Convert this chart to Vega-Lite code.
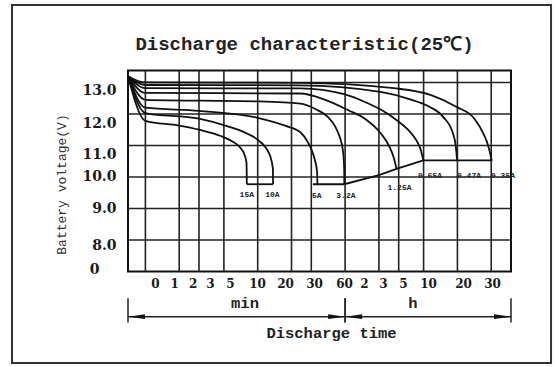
{
  "$schema": "https://vega.github.io/schema/vega-lite/v6.json",
  "width": 383,
  "height": 201,
  "autosize": {"type": "none"},
  "padding": {"left": 128, "top": 70.5, "right": 48, "bottom": 95.5},
  "background": "white",
  "config": {"view": {"stroke": "#111", "strokeWidth": 2}, "axis": {"labelOverlap": false}},
  "title": {
    "text": "Discharge characteristic(25℃)",
    "font": "Liberation Mono",
    "fontSize": 19,
    "fontWeight": "bold",
    "color": "#222",
    "anchor": "middle",
    "frame": "group",
    "dx": -15,
    "dy": 21,
    "offset": -44.3,
    "baseline": "alphabetic"
  },
  "datasets": {
    "vgrid": [{"t": 1}, {"t": 2}, {"t": 3}, {"t": 5}, {"t": 10}, {"t": 20}, {"t": 30}, {"t": 60}, {"t": 120}, {"t": 180}, {"t": 300}, {"t": 600}, {"t": 1200}],
    "hgrid": [{"v": 8}, {"v": 9}, {"v": 10}, {"v": 11}, {"v": 12}, {"v": 13}],
    "curves": [
      {"s": "15A", "i": 0, "t": 0.7, "v": 13.2}, {"s": "15A", "i": 1, "t": 1, "v": 11.78}, {"s": "15A", "i": 2, "t": 2, "v": 11.63}, {"s": "15A", "i": 3, "t": 3, "v": 11.5}, {"s": "15A", "i": 4, "t": 4.7, "v": 11.3}, {"s": "15A", "i": 5, "t": 6, "v": 11.12}, {"s": "15A", "i": 6, "t": 7, "v": 10.93}, {"s": "15A", "i": 7, "t": 7.6, "v": 10.72}, {"s": "15A", "i": 8, "t": 7.95, "v": 10.45}, {"s": "15A", "i": 9, "t": 8.0, "v": 9.77},
      {"s": "10A", "i": 0, "t": 0.7, "v": 13.2}, {"s": "10A", "i": 1, "t": 1, "v": 12.03}, {"s": "10A", "i": 2, "t": 3, "v": 11.85}, {"s": "10A", "i": 3, "t": 5.5, "v": 11.6}, {"s": "10A", "i": 4, "t": 8, "v": 11.38}, {"s": "10A", "i": 5, "t": 10.6, "v": 11.11}, {"s": "10A", "i": 6, "t": 12.2, "v": 10.85}, {"s": "10A", "i": 7, "t": 13.2, "v": 10.55}, {"s": "10A", "i": 8, "t": 13.65, "v": 10.25}, {"s": "10A", "i": 9, "t": 13.7, "v": 9.77},
      {"s": "5A", "i": 0, "t": 0.7, "v": 13.2}, {"s": "5A", "i": 1, "t": 1, "v": 12.2}, {"s": "5A", "i": 2, "t": 3, "v": 12.1}, {"s": "5A", "i": 3, "t": 10, "v": 11.88}, {"s": "5A", "i": 4, "t": 17.8, "v": 11.62}, {"s": "5A", "i": 5, "t": 24, "v": 11.42}, {"s": "5A", "i": 6, "t": 28, "v": 11.1}, {"s": "5A", "i": 7, "t": 30.5, "v": 10.82}, {"s": "5A", "i": 8, "t": 32.5, "v": 10.5}, {"s": "5A", "i": 9, "t": 33.8, "v": 10.15}, {"s": "5A", "i": 10, "t": 34, "v": 9.77},
      {"s": "3.2A", "i": 0, "t": 0.7, "v": 13.2}, {"s": "3.2A", "i": 1, "t": 1, "v": 12.45}, {"s": "3.2A", "i": 2, "t": 10, "v": 12.4}, {"s": "3.2A", "i": 3, "t": 24, "v": 12.33}, {"s": "3.2A", "i": 4, "t": 33, "v": 12.15}, {"s": "3.2A", "i": 5, "t": 42, "v": 11.91}, {"s": "3.2A", "i": 6, "t": 49, "v": 11.6}, {"s": "3.2A", "i": 7, "t": 54, "v": 11.25}, {"s": "3.2A", "i": 8, "t": 57, "v": 10.9}, {"s": "3.2A", "i": 9, "t": 58.5, "v": 10.5}, {"s": "3.2A", "i": 10, "t": 59, "v": 10.1}, {"s": "3.2A", "i": 11, "t": 59, "v": 9.77},
      {"s": "1.25A", "i": 0, "t": 0.7, "v": 13.2}, {"s": "1.25A", "i": 1, "t": 1, "v": 12.67}, {"s": "1.25A", "i": 2, "t": 24, "v": 12.65}, {"s": "1.25A", "i": 3, "t": 40, "v": 12.45}, {"s": "1.25A", "i": 4, "t": 64, "v": 12.12}, {"s": "1.25A", "i": 5, "t": 90, "v": 11.85}, {"s": "1.25A", "i": 6, "t": 125, "v": 11.38}, {"s": "1.25A", "i": 7, "t": 148, "v": 10.98}, {"s": "1.25A", "i": 8, "t": 163, "v": 10.6}, {"s": "1.25A", "i": 9, "t": 172, "v": 10.26},
      {"s": "5h", "i": 0, "t": 0.7, "v": 13.2}, {"s": "5h", "i": 1, "t": 1, "v": 12.82}, {"s": "5h", "i": 2, "t": 24, "v": 12.81}, {"s": "5h", "i": 3, "t": 60, "v": 12.62}, {"s": "5h", "i": 4, "t": 90, "v": 12.38}, {"s": "5h", "i": 5, "t": 130, "v": 12.1}, {"s": "5h", "i": 6, "t": 173, "v": 11.8}, {"s": "5h", "i": 7, "t": 225, "v": 11.45}, {"s": "5h", "i": 8, "t": 258, "v": 11.17}, {"s": "5h", "i": 9, "t": 282, "v": 10.88}, {"s": "5h", "i": 10, "t": 298, "v": 10.53},
      {"s": "10h", "i": 0, "t": 0.7, "v": 13.2}, {"s": "10h", "i": 1, "t": 1, "v": 12.92}, {"s": "10h", "i": 2, "t": 24, "v": 12.91}, {"s": "10h", "i": 3, "t": 124, "v": 12.7}, {"s": "10h", "i": 4, "t": 220, "v": 12.48}, {"s": "10h", "i": 5, "t": 338, "v": 12.23}, {"s": "10h", "i": 6, "t": 450, "v": 11.9}, {"s": "10h", "i": 7, "t": 548, "v": 11.38}, {"s": "10h", "i": 8, "t": 580, "v": 10.98}, {"s": "10h", "i": 9, "t": 596, "v": 10.53},
      {"s": "20h", "i": 0, "t": 0.7, "v": 13.2}, {"s": "20h", "i": 1, "t": 1, "v": 13.0}, {"s": "20h", "i": 2, "t": 24, "v": 12.99}, {"s": "20h", "i": 3, "t": 171, "v": 12.81}, {"s": "20h", "i": 4, "t": 350, "v": 12.6}, {"s": "20h", "i": 5, "t": 586, "v": 12.23}, {"s": "20h", "i": 6, "t": 850, "v": 11.85}, {"s": "20h", "i": 7, "t": 1021, "v": 11.38}, {"s": "20h", "i": 8, "t": 1130, "v": 10.98}, {"s": "20h", "i": 9, "t": 1210, "v": 10.53}
    ],
    "cutoff": [
      {"seg": "a", "i": 0, "t": 8.0, "v": 9.77}, {"seg": "a", "i": 1, "t": 13.7, "v": 9.77},
      {"seg": "b", "i": 0, "t": 31, "v": 9.77}, {"seg": "b", "i": 1, "t": 59, "v": 9.77}, {"seg": "b", "i": 2, "t": 120, "v": 10.06}, {"seg": "b", "i": 3, "t": 172, "v": 10.26}, {"seg": "b", "i": 4, "t": 298, "v": 10.53}, {"seg": "b", "i": 5, "t": 1230, "v": 10.53}
    ],
    "rateLabels": [
      {"label": "15A", "t": 8.0, "v": 9.42}, {"label": "10A", "t": 13.5, "v": 9.42}, {"label": "5A", "t": 33.5, "v": 9.39}, {"label": "3.2A", "t": 61, "v": 9.39}, {"label": "1.25A", "t": 183, "v": 9.64},
      {"label": "0.65A", "t": 342, "v": 10.02}, {"label": "0.47A", "t": 761, "v": 10.02}, {"label": "0.35A", "t": 1528, "v": 10.02}
    ],
    "dims": [{"unit": "min", "start": 0.7, "end": 60}, {"unit": "h", "start": 60, "end": 1800}]
  },
  "layer": [
    {
      "data": {"name": "vgrid"},
      "mark": {"type": "rule", "stroke": "#222", "strokeWidth": 1.6},
      "encoding": {
        "x": {
          "field": "t", "type": "quantitative",
          "scale": {"type": "log", "domain": [0.7, 1800], "nice": false},
          "axis": {
            "values": [1.217, 1.8, 2.63, 3.76, 5.67, 9.86, 17.5, 31.7, 58.7, 88.4, 130.6, 196.7, 328.5, 673, 1220],
            "tickCount": 40,
            "labelExpr": "datum.value < 1.5 ? '0' : datum.value < 2.2 ? '1' : datum.value < 3.2 ? '2' : datum.value < 4.5 ? '3' : datum.value < 7 ? '5' : datum.value < 13 ? '10' : datum.value < 25 ? '20' : datum.value < 45 ? '30' : datum.value < 70 ? '60' : datum.value < 110 ? '2' : datum.value < 160 ? '3' : datum.value < 250 ? '5' : datum.value < 500 ? '10' : datum.value < 900 ? '20' : '30'",
            "domain": false, "ticks": false, "tickSize": 0, "grid": false,
            "labelOverlap": false, "labelFlush": false,
            "labelFont": "DejaVu Serif", "labelFontWeight": "bold", "labelFontSize": 12, "labelColor": "#1a1a1a", "labelPadding": 7,
            "title": "Discharge time",
            "titleFont": "Liberation Mono", "titleFontWeight": "bold", "titleFontSize": 15.5, "titleColor": "#222",
            "titleX": 203, "titleY": 60.5, "titleAlign": "center", "titleBaseline": "middle"
          }
        }
      }
    },
    {
      "data": {"name": "hgrid"},
      "mark": {"type": "rule", "stroke": "#222", "strokeWidth": 1.6},
      "encoding": {
        "y": {
          "field": "v", "type": "quantitative",
          "scale": {"domain": [7, 13.38], "nice": false, "zero": false},
          "axis": {
            "values": [12.73, 11.71, 10.71, 10, 9, 7.84, 7.07],
            "tickCount": 40,
            "labelExpr": "datum.value > 12.5 ? '13.0' : datum.value > 11.5 ? '12.0' : datum.value > 10.5 ? '11.0' : datum.value > 9.5 ? '10.0' : datum.value > 8.5 ? '9.0' : datum.value > 7.5 ? '8.0' : '0'",
            "domain": false, "ticks": false, "tickSize": 0, "grid": false,
            "labelOverlap": false, "labelFlush": false,
            "labelFont": "DejaVu Serif", "labelFontWeight": "bold", "labelFontSize": 14, "labelColor": "#1a1a1a",
            "labelPadding": {"condition": {"test": "datum.value < 7.5", "value": 29}, "value": 12},
            "title": "Battery voltage(V)",
            "titleFont": "Liberation Mono", "titleFontWeight": "normal", "titleFontSize": 13, "titleColor": "#333",
            "titleX": -66.5, "titleY": 113.5, "titleAngle": -90, "titleAlign": "center", "titleBaseline": "middle"
          }
        }
      }
    },
    {
      "data": {"name": "curves"},
      "mark": {"type": "line", "stroke": "#111", "strokeWidth": 1.8, "interpolate": "monotone"},
      "encoding": {
        "x": {"field": "t", "type": "quantitative"},
        "y": {"field": "v", "type": "quantitative"},
        "detail": {"field": "s"},
        "order": {"field": "i", "type": "quantitative"}
      }
    },
    {
      "data": {"name": "cutoff"},
      "mark": {"type": "line", "stroke": "#111", "strokeWidth": 1.8},
      "encoding": {
        "x": {"field": "t", "type": "quantitative"},
        "y": {"field": "v", "type": "quantitative"},
        "detail": {"field": "seg"},
        "order": {"field": "i", "type": "quantitative"}
      }
    },
    {
      "data": {"name": "rateLabels"},
      "mark": {"type": "text", "font": "Liberation Mono", "fontSize": 8, "fontWeight": "bold", "color": "#222", "baseline": "middle", "align": "center"},
      "encoding": {
        "x": {"field": "t", "type": "quantitative"},
        "y": {"field": "v", "type": "quantitative"},
        "text": {"field": "label"}
      }
    },
    {
      "data": {"name": "dims"},
      "mark": {"type": "rule", "stroke": "#222", "strokeWidth": 1.5},
      "encoding": {
        "x": {"field": "start", "type": "quantitative"},
        "x2": {"field": "end"},
        "y": {"datum": 5.564}
      }
    },
    {
      "data": {"name": "dims"},
      "mark": {"type": "rule", "stroke": "#222", "strokeWidth": 1.5},
      "encoding": {
        "x": {"field": "start", "type": "quantitative"},
        "y": {"datum": 6.15},
        "y2": {"datum": 5.38}
      }
    },
    {
      "data": {"name": "dims"},
      "mark": {"type": "rule", "stroke": "#222", "strokeWidth": 1.5},
      "encoding": {
        "x": {"field": "end", "type": "quantitative"},
        "y": {"datum": 6.15},
        "y2": {"datum": 5.38}
      }
    },
    {
      "data": {"name": "dims"},
      "mark": {"type": "point", "filled": true, "color": "#111", "opacity": 1, "size": 1156, "shape": "M0,0L1,-0.14L1,0.14Z"},
      "encoding": {
        "x": {"field": "start", "type": "quantitative"},
        "y": {"datum": 5.564}
      }
    },
    {
      "data": {"name": "dims"},
      "mark": {"type": "point", "filled": true, "color": "#111", "opacity": 1, "size": 1156, "shape": "M0,0L-1,-0.14L-1,0.14Z"},
      "encoding": {
        "x": {"field": "end", "type": "quantitative"},
        "y": {"datum": 5.564}
      }
    },
    {
      "data": {"values": [{"unit": "min"}]},
      "mark": {"type": "text", "font": "Liberation Mono", "fontSize": 15.5, "fontWeight": "bold", "color": "#222", "baseline": "middle", "align": "center"},
      "encoding": {
        "x": {"datum": 7.71},
        "y": {"datum": 5.99},
        "text": {"field": "unit"}
      }
    },
    {
      "data": {"values": [{"unit": "h"}]},
      "mark": {"type": "text", "font": "Liberation Mono", "fontSize": 15.5, "fontWeight": "bold", "color": "#222", "baseline": "middle", "align": "center"},
      "encoding": {
        "x": {"datum": 241.5},
        "y": {"datum": 5.99},
        "text": {"field": "unit"}
      }
    },
    {
      "data": {"values": [{"frame": "outer"}]},
      "mark": {"type": "rect", "fill": null, "fillOpacity": 0, "stroke": "#333", "strokeWidth": 2},
      "encoding": {
        "x": {"datum": 0.0649},
        "x2": {"datum": 4091},
        "y": {"datum": 15.46},
        "y2": {"datum": 4.094}
      }
    }
  ]
}
